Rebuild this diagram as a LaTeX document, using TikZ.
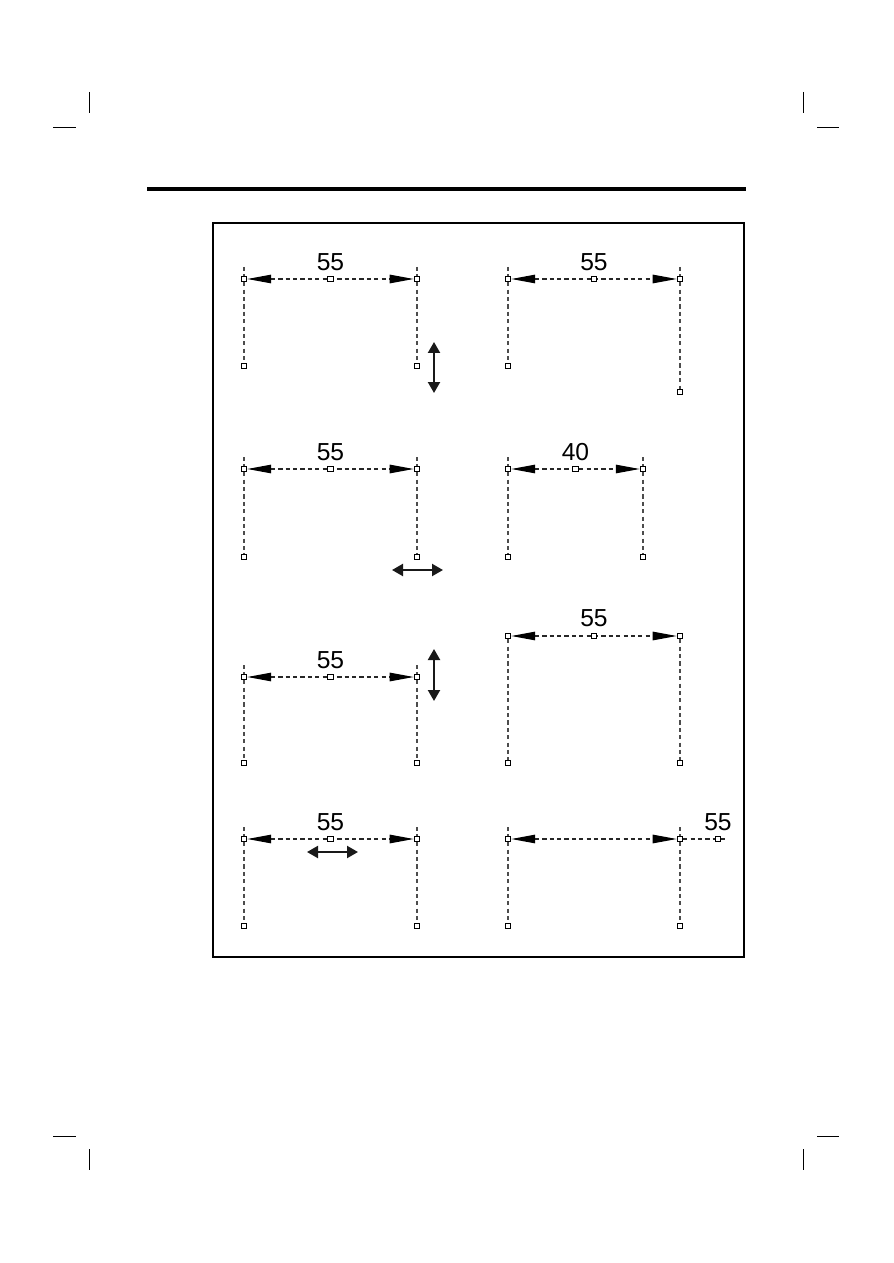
\documentclass[tikz,border=0pt]{standalone}
\usepackage{fontspec}
\newfontfamily\dimfont{Liberation Sans}
\usetikzlibrary{positioning,calc,arrows.meta}

\begin{document}
\begin{tikzpicture}[x=0.02cm, y=-0.02cm,
        pointnode/.style={rectangle, draw=black, fill=white, inner sep=0pt, minimum size=1.1mm, line width=0.55pt},
        valuenode/.style={font=\dimfont\fontsize{14}{16}\selectfont, inner sep=0pt, text=black},
        extline/.style={draw=black!70, dash pattern=on 2.4pt off 1.8pt, line width=0.65pt},
        dimline/.style={draw=black!85, dash pattern=on 2.4pt off 1.8pt, line width=0.65pt,
            {Triangle[length=4.8mm, width=1.7mm, color=black]}-{Triangle[length=4.8mm, width=1.7mm, color=black]}},
        tailline/.style={draw=black!85, dash pattern=on 2.4pt off 1.8pt, line width=0.65pt},
        movearrow/.style={draw=black!90, line width=1.2pt,
            {Triangle[length=2.2mm, width=2.4mm]}-{Triangle[length=2.2mm, width=2.4mm]}},
        on grid,
        ]
        \useasboundingbox (0,0) rectangle (893,1263);
        %Page
        \draw[line width=0.5pt] (89,92) -- (89,113);
        \draw[line width=0.5pt] (53,127) -- (76,127);
        \draw[line width=0.5pt] (803,92) -- (803,113);
        \draw[line width=0.5pt] (817,127) -- (839,127);
        \draw[line width=0.5pt] (53,1136) -- (76,1136);
        \draw[line width=0.5pt] (89,1149) -- (89,1170);
        \draw[line width=0.5pt] (817,1136) -- (839,1136);
        \draw[line width=0.5pt] (803,1149) -- (803,1170);
        \draw[line width=1.8pt] (147,189) -- (746,189);
        \draw[line width=0.8pt] (213,223) rectangle (744,957);

        %Nodes
        \node[pointnode] (a1) at (244,279) {};
        \node[pointnode] [right= 3.46cm of a1] (b1) {};
        \node[pointnode] [below= 1.74cm of a1] (qa1) {};
        \node[pointnode] [below= 1.74cm of b1] (qb1) {};
        \coordinate [above= 0.24cm of a1] (ta1);
        \coordinate [above= 0.24cm of b1] (tb1);

        \node[pointnode] (a2) at (508,279) {};
        \node[pointnode] [right= 3.44cm of a2] (b2) {};
        \node[pointnode] [below= 1.74cm of a2] (qa2) {};
        \node[pointnode] [below= 2.26cm of b2] (qb2) {};
        \coordinate [above= 0.24cm of a2] (ta2);
        \coordinate [above= 0.24cm of b2] (tb2);

        \node[pointnode] (a3) at (244,469) {};
        \node[pointnode] [right= 3.46cm of a3] (b3) {};
        \node[pointnode] [below= 1.76cm of a3] (qa3) {};
        \node[pointnode] [below= 1.76cm of b3] (qb3) {};
        \coordinate [above= 0.24cm of a3] (ta3);
        \coordinate [above= 0.24cm of b3] (tb3);

        \node[pointnode] (a4) at (508,469) {};
        \node[pointnode] [right= 2.7cm of a4] (b4) {};
        \node[pointnode] [below= 1.76cm of a4] (qa4) {};
        \node[pointnode] [below= 1.76cm of b4] (qb4) {};
        \coordinate [above= 0.24cm of a4] (ta4);
        \coordinate [above= 0.24cm of b4] (tb4);

        \node[pointnode] (a5) at (244,677) {};
        \node[pointnode] [right= 3.46cm of a5] (b5) {};
        \node[pointnode] [below= 1.72cm of a5] (qa5) {};
        \node[pointnode] [below= 1.72cm of b5] (qb5) {};
        \coordinate [above= 0.24cm of a5] (ta5);
        \coordinate [above= 0.24cm of b5] (tb5);

        \node[pointnode] (a6) at (508,636) {};
        \node[pointnode] [right= 3.44cm of a6] (b6) {};
        \node[pointnode] [below= 2.54cm of a6] (qa6) {};
        \node[pointnode] [below= 2.54cm of b6] (qb6) {};

        \node[pointnode] (a7) at (244,839) {};
        \node[pointnode] [right= 3.46cm of a7] (b7) {};
        \node[pointnode] [below= 1.74cm of a7] (qa7) {};
        \node[pointnode] [below= 1.74cm of b7] (qb7) {};
        \coordinate [above= 0.24cm of a7] (ta7);
        \coordinate [above= 0.24cm of b7] (tb7);

        \node[pointnode] (a8) at (508,839) {};
        \node[pointnode] [right= 3.44cm of a8] (b8) {};
        \node[pointnode] [right= 0.76cm of b8] (c8) {};
        \coordinate [right= 0.2cm of c8] (e8);
        \node[pointnode] [below= 1.74cm of a8] (qa8) {};
        \node[pointnode] [below= 1.74cm of b8] (qb8) {};
        \coordinate [above= 0.24cm of a8] (ta8);
        \coordinate [above= 0.24cm of b8] (tb8);

        %Lines
        \draw[extline] (ta1) -- (a1) -- (qa1);
        \draw[extline] (tb1) -- (b1) -- (qb1);
        \draw[dimline] (a1) -- (b1);
        \draw[extline] (ta2) -- (a2) -- (qa2);
        \draw[extline] (tb2) -- (b2) -- (qb2);
        \draw[dimline] (a2) -- (b2);
        \draw[extline] (ta3) -- (a3) -- (qa3);
        \draw[extline] (tb3) -- (b3) -- (qb3);
        \draw[dimline] (a3) -- (b3);
        \draw[extline] (ta4) -- (a4) -- (qa4);
        \draw[extline] (tb4) -- (b4) -- (qb4);
        \draw[dimline] (a4) -- (b4);
        \draw[extline] (ta5) -- (a5) -- (qa5);
        \draw[extline] (tb5) -- (b5) -- (qb5);
        \draw[dimline] (a5) -- (b5);
        \draw[extline] (a6) -- (qa6);
        \draw[extline] (b6) -- (qb6);
        \draw[dimline] (a6) -- (b6);
        \draw[extline] (ta7) -- (a7) -- (qa7);
        \draw[extline] (tb7) -- (b7) -- (qb7);
        \draw[dimline] (a7) -- (b7);
        \draw[extline] (ta8) -- (a8) -- (qa8);
        \draw[extline] (tb8) -- (b8) -- (qb8);
        \draw[dimline] (a8) -- (b8);
        \draw[tailline] (b8) -- (c8) -- (e8);

        %Values
        \node[pointnode] (m1) at ($(a1)!0.5!(b1)$) {};
        \node[valuenode] [above= 0.34cm of m1] (v1) {55};
        \node[pointnode] (m2) at ($(a2)!0.5!(b2)$) {};
        \node[valuenode] [above= 0.34cm of m2] (v2) {55};
        \node[pointnode] (m3) at ($(a3)!0.5!(b3)$) {};
        \node[valuenode] [above= 0.34cm of m3] (v3) {55};
        \node[pointnode] (m4) at ($(a4)!0.5!(b4)$) {};
        \node[valuenode] [above= 0.34cm of m4] (v4) {40};
        \node[pointnode] (m5) at ($(a5)!0.5!(b5)$) {};
        \node[valuenode] [above= 0.34cm of m5] (v5) {55};
        \node[pointnode] (m6) at ($(a6)!0.5!(b6)$) {};
        \node[valuenode] [above= 0.36cm of m6] (v6) {55};
        \node[pointnode] (m7) at ($(a7)!0.5!(b7)$) {};
        \node[valuenode] [above= 0.34cm of m7] (v7) {55};
        \node[valuenode] [above= 0.34cm of c8] (v8) {55};

        %Moves
        \coordinate (u1) at (434,342);
        \coordinate (w1) at (434,393);
        \draw[movearrow] (u1) -- (w1);
        \coordinate (u3) at (392,570);
        \coordinate (w3) at (443,570);
        \draw[movearrow] (u3) -- (w3);
        \coordinate (u5) at (434,649);
        \coordinate (w5) at (434,701);
        \draw[movearrow] (u5) -- (w5);
        \coordinate (u7) at (307,852);
        \coordinate (w7) at (358,852);
        \draw[movearrow] (u7) -- (w7);
    \end{tikzpicture}
\end{document}
